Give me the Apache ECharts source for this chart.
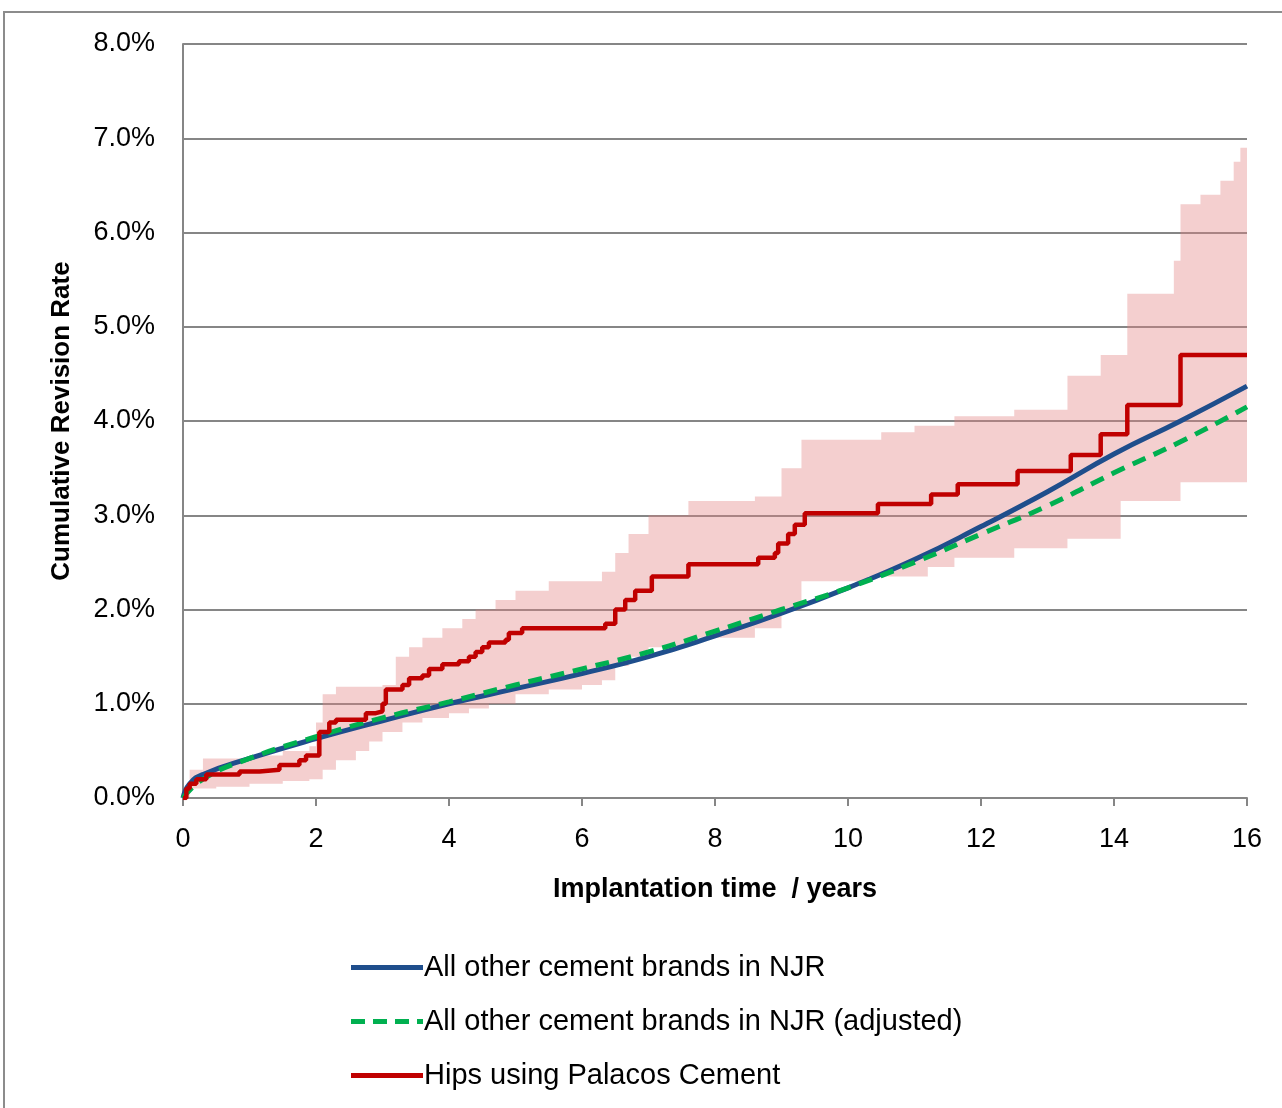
<!DOCTYPE html>
<html>
<head>
<meta charset="UTF-8">
<script src="https://cdn.jsdelivr.net/npm/echarts@6/dist/echarts.min.js"></script>
<style>html,body{margin:0;padding:0;background:#fff}#c{width:1282px;height:1108px}</style>
</head>
<body>
<div id="c"></div>
<script>
// Hips using Palacos Cement: [years, %] (step jumps)
const palacos = [[0,0],[0.05,0.1],[0.1,0.15],[0.2,0.2],[0.35,0.25],[0.85,0.28],[1.15,0.3],[1.45,0.35],[1.75,0.4],[1.85,0.45],[2.05,0.7],[2.2,0.8],[2.3,0.83],[2.75,0.9],[2.9,0.92],[3.0,1.0],[3.05,1.15],[3.3,1.2],[3.4,1.27],[3.6,1.3],[3.7,1.37],[3.9,1.42],[4.15,1.45],[4.3,1.5],[4.4,1.55],[4.5,1.6],[4.6,1.65],[4.85,1.68],[4.9,1.75],[5.1,1.8],[6.35,1.85],[6.5,2.0],[6.65,2.1],[6.8,2.2],[7.05,2.35],[7.6,2.48],[8.65,2.55],[8.9,2.6],[8.95,2.7],[9.1,2.8],[9.2,2.9],[9.35,3.02],[10.45,3.12],[11.25,3.22],[11.65,3.33],[12.55,3.47],[13.35,3.64],[13.8,3.86],[14.2,4.17],[15.0,4.7],[16,4.7]];
const ciLower = [[0,0],[0.1,0.1],[0.5,0.12],[1,0.15],[1.5,0.18],[1.9,0.2],[2.1,0.3],[2.3,0.4],[2.6,0.5],[2.8,0.6],[3.0,0.7],[3.3,0.8],[3.6,0.85],[4.0,0.9],[4.3,0.95],[4.6,1.0],[5.0,1.1],[5.5,1.15],[6.0,1.2],[6.3,1.25],[6.5,1.4],[6.7,1.5],[7.0,1.6],[7.6,1.7],[8.6,1.8],[9.0,2.0],[9.3,2.3],[10.3,2.35],[11.2,2.45],[11.6,2.55],[12.5,2.65],[13.3,2.75],[14.1,3.15],[15.0,3.35],[16,3.35]];
const ciUpper = [[0,0.05],[0.1,0.3],[0.3,0.42],[1.0,0.45],[1.5,0.5],[1.9,0.55],[2.0,0.8],[2.1,1.1],[2.3,1.18],[3.0,1.2],[3.2,1.5],[3.4,1.6],[3.6,1.7],[3.9,1.8],[4.2,1.9],[4.4,2.0],[4.7,2.1],[5.0,2.2],[5.5,2.3],[6.3,2.4],[6.5,2.6],[6.7,2.8],[7.0,3.0],[7.6,3.15],[8.6,3.2],[9.0,3.5],[9.3,3.8],[10.5,3.88],[11.0,3.95],[11.6,4.05],[12.5,4.12],[13.3,4.48],[13.8,4.7],[14.2,5.35],[14.9,5.7],[15.0,6.3],[15.3,6.4],[15.6,6.55],[15.8,6.75],[15.9,6.9],[16,7.05]];
const otherBrands = [[0,0],[0.1,0.15],[0.3,0.25],[1,0.42],[2,0.63],[3,0.82],[4,1.0],[5,1.16],[6,1.32],[7,1.5],[8,1.72],[9,1.96],[10,2.23],[11,2.53],[12,2.88],[13,3.25],[14,3.65],[15,4.0],[16,4.37]];
const otherAdjusted = [[0,0],[0.3,0.2],[1,0.42],[2,0.65],[3,0.85],[4,1.02],[5,1.2],[6,1.37],[7,1.55],[8,1.77],[9,2.0],[10,2.23],[11,2.5],[12,2.8],[13,3.1],[14,3.45],[15,3.78],[16,4.15]];

function stepPts(arr) {
  const out = [];
  arr.forEach((p, i) => {
    if (i > 0) out.push([p[0], arr[i - 1][1]]);
    out.push(p);
  });
  return out;
}
const bandUp = stepPts(ciUpper), bandLo = stepPts(ciLower);

const font = 'Liberation Sans';
const solidIcon = 'path://M0,0H72V5H0Z';
const dashIcon = 'path://M0,0H14V5H0ZM22,0H36V5H22ZM44,0H58V5H44ZM66,0H72V5H66Z';
const chart = echarts.init(document.getElementById('c'));
chart.setOption({
  animation: false,
  textStyle: { fontFamily: font },
  graphic: [{ type: 'rect', shape: { x: 4, y: 12, width: 1300, height: 1120 }, style: { fill: 'none', stroke: '#8c8c8c', lineWidth: 2 } }],
  grid: { left: 183, right: 35, top: 44, bottom: 310 },
  xAxis: {
    type: 'value', min: 0, max: 16, interval: 2,
    name: 'Implantation time  / years', nameLocation: 'middle', nameGap: 78,
    nameTextStyle: { fontSize: 27, fontWeight: 'bold', color: '#000' },
    axisLine: { lineStyle: { color: '#868686', width: 2 } },
    axisTick: { show: true, length: 8, lineStyle: { color: '#868686', width: 2 } },
    axisLabel: { fontSize: 27, color: '#000', margin: 28 },
    splitLine: { show: false }
  },
  yAxis: {
    type: 'value', min: 0, max: 8, interval: 1,
    name: 'Cumulative Revision Rate', nameLocation: 'middle', nameGap: 108,
    nameTextStyle: { fontSize: 26, fontWeight: 'bold', color: '#000' },
    axisLine: { show: true, lineStyle: { color: '#868686', width: 2 } },
    axisTick: { show: false },
    axisLabel: { fontSize: 27, color: '#000', margin: 28, formatter: v => v.toFixed(1) + '%' },
    splitLine: { lineStyle: { color: '#868686', width: 2 } }
  },
  legend: {
    orient: 'vertical', left: 346, top: 948, itemGap: 25, itemWidth: 72, itemHeight: 5,
    textStyle: { fontSize: 29, color: '#000', fontFamily: font, padding: [0, 0, 0, -4] },
    data: [
      { name: 'All other cement brands in NJR', icon: solidIcon },
      { name: 'All other cement brands in NJR (adjusted)', icon: dashIcon },
      { name: 'Hips using Palacos Cement', icon: solidIcon }
    ]
  },
  series: [
    {
      type: 'custom', name: 'CI', silent: true, z: 1,
      data: [0],
      renderItem: (params, api) => {
        const pts = bandUp.map(p => api.coord(p)).concat(bandLo.slice().reverse().map(p => api.coord(p)));
        return { type: 'polygon', shape: { points: pts }, style: { fill: 'rgba(225,130,130,0.38)' } };
      }
    },
    { type: 'line', name: 'All other cement brands in NJR', data: otherBrands, smooth: true, showSymbol: false, symbol: 'none', z: 3,
      lineStyle: { color: '#1f4e8c', width: 5 }, itemStyle: { color: '#1f4e8c' } },
    { type: 'line', name: 'All other cement brands in NJR (adjusted)', data: otherAdjusted, smooth: true, showSymbol: false, symbol: 'none', z: 4,
      lineStyle: { color: '#00b050', width: 5, type: [14, 9] }, itemStyle: { color: '#00b050' } },
    { type: 'line', name: 'Hips using Palacos Cement', data: palacos, step: 'end', showSymbol: false, symbol: 'none', z: 5,
      lineStyle: { color: '#c00000', width: 4.5 }, itemStyle: { color: '#c00000' } }
  ]
});
</script>
</body>
</html>
